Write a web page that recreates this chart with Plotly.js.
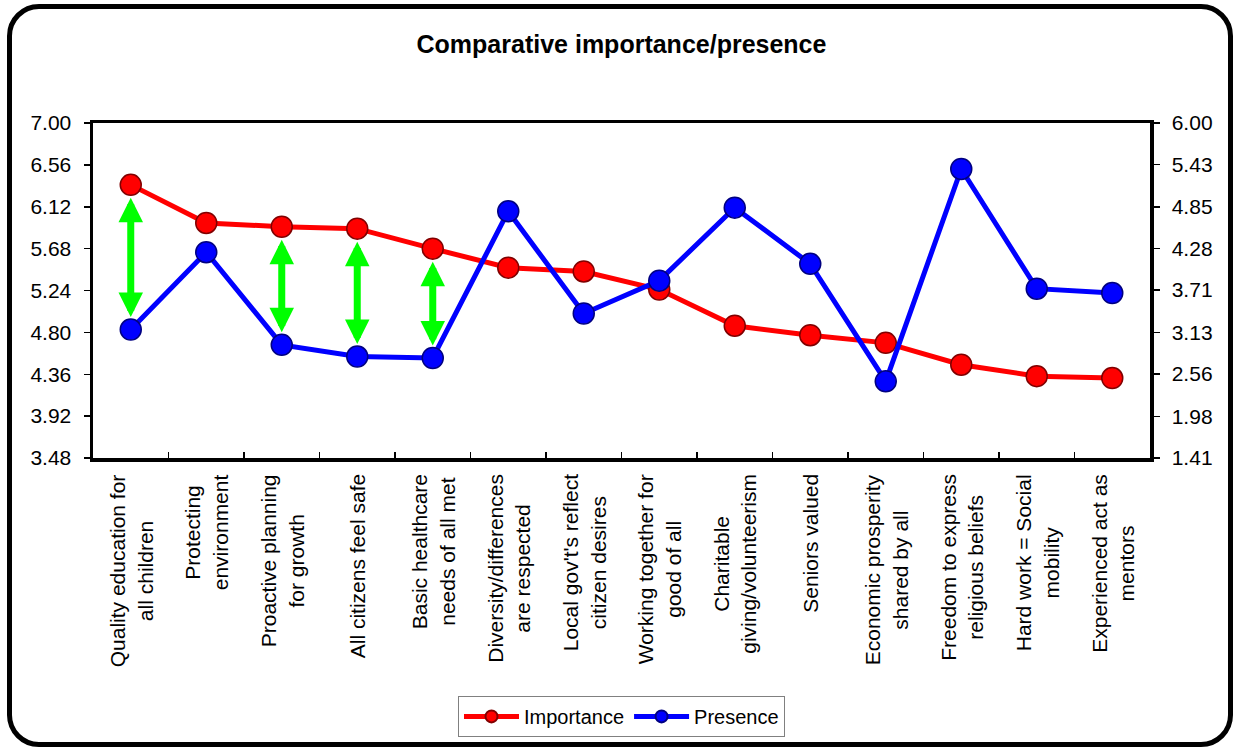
<!DOCTYPE html>
<html>
<head>
<meta charset="utf-8">
<script src="https://cdn.plot.ly/plotly-3.0.1.min.js"></script>
<style>
  html, body { margin: 0; padding: 0; background: #ffffff; }
  #wrap { position: relative; width: 1235px; height: 748px; overflow: hidden; }
  #chart { position: absolute; left: 0; top: 0; width: 1235px; height: 748px; }
  #frame { position: absolute; left: 7px; top: 4px; width: 1226px; height: 743px;
           box-sizing: border-box; border: 5px solid #000; border-radius: 32px; pointer-events: none; }
</style>
</head>
<body>
<div id="wrap"><div id="chart"></div><div id="frame"></div></div>
<script>
const categories = [
  "Quality education for<br>all children",
  "Protecting<br>environment",
  "Proactive planning<br>for growth",
  "All citizens feel safe",
  "Basic healthcare<br>needs of all met",
  "Diversity/differences<br>are respected",
  "Local gov't's reflect<br>citizen desires",
  "Working together for<br>good of all",
  "Charitable<br>giving/volunteerism",
  "Seniors valued",
  "Economic prosperity<br>shared by all",
  "Freedom to express<br>religious beliefs",
  "Hard work = Social<br>mobility",
  "Experienced act as<br>mentors"
];
const importance = [6.35, 5.95, 5.91, 5.89, 5.68, 5.48, 5.44, 5.25, 4.87, 4.77, 4.69, 4.46, 4.34, 4.32];
const presence   = [3.17, 4.23, 2.96, 2.80, 2.78, 4.79, 3.39, 3.84, 4.84, 4.07, 2.46, 5.37, 3.73, 3.67];
const leftTickLabels  = ["3.48", "3.92", "4.36", "4.80", "5.24", "5.68", "6.12", "6.56", "7.00"];
const rightTickLabels = ["1.41", "1.98", "2.56", "3.13", "3.71", "4.28", "4.85", "5.43", "6.00"];
const gapCategories = [0, 2, 3, 4];
const titleText = "Comparative importance/presence";

const FONT = "Liberation Sans, Arial, sans-serif";
const leftRange = [3.48, 7.00];
const rightRange = [1.41, 6.00];
function toLeft(v) {
  return leftRange[0] + (v - rightRange[0]) / (rightRange[1] - rightRange[0]) * (leftRange[1] - leftRange[0]);
}

const traces = [
  {
    x: categories, y: importance, name: "Importance", type: "scatter", mode: "lines+markers",
    line: { color: "#ff0000", width: 5 },
    marker: { color: "#ff0000", size: 21, line: { color: "#800000", width: 1.5 } },
    cliponaxis: false
  },
  {
    x: categories, y: presence, name: "Presence", type: "scatter", mode: "lines+markers", yaxis: "y2",
    line: { color: "#0000ff", width: 5 },
    marker: { color: "#0000ff", size: 21, line: { color: "#000080", width: 1.5 } },
    cliponaxis: false
  }
];

const annotations = [];
categories.forEach(function (c) {
  annotations.push({
    x: c, xref: "x", y: 0, yref: "paper", yanchor: "top", xanchor: "center",
    yshift: -14, text: c, showarrow: false, textangle: -90, align: "center",
    font: { family: FONT, size: 21, color: "#000" }
  });
});
gapCategories.forEach(function (i) {
  annotations.push({
    x: categories[i], xref: "x", y: importance[i], yref: "y",
    ax: categories[i], axref: "x", ay: toLeft(presence[i]), ayref: "y",
    text: "", showarrow: true, arrowside: "end+start",
    arrowhead: 2, startarrowhead: 2, arrowsize: 0.7, startarrowsize: 0.7,
    arrowwidth: 7, arrowcolor: "#00ff00", standoff: 13, startstandoff: 11
  });
});

const layout = {
  width: 1235, height: 748,
  margin: { l: 93, r: 85, t: 123, b: 289 },
  paper_bgcolor: "rgba(0,0,0,0)", plot_bgcolor: "#ffffff",
  font: { family: FONT, size: 20, color: "#000" },
  title: { text: "<b>" + titleText + "</b>", x: 0.5, xref: "paper", y: 1 - 44 / 748, yanchor: "middle",
           font: { family: FONT, size: 25, color: "#000" } },
  showlegend: true,
  legend: {
    orientation: "h", x: 0.5, xanchor: "center", y: -0.705, yanchor: "top",
    bgcolor: "#ffffff", bordercolor: "#808080", borderwidth: 1,
    font: { family: FONT, size: 20, color: "#000" }, itemsizing: "constant", itemwidth: 55
  },
  xaxis: {
    type: "category", range: [-0.5, 13.5], showticklabels: false,
    tickson: "boundaries", ticks: "inside", ticklen: 6, tickwidth: 1.5, tickcolor: "#000",
    showline: true, linecolor: "#000", linewidth: 3.5, mirror: true, showgrid: false, zeroline: false
  },
  yaxis: {
    range: leftRange, tickvals: leftTickLabels.map(parseFloat), ticktext: leftTickLabels,
    ticks: "outside", ticklen: 6, tickwidth: 1.5, tickcolor: "#000", ticklabelstandoff: 8,
    showline: true, linecolor: "#000", linewidth: 3.5, mirror: true, showgrid: false, zeroline: false,
    tickfont: { family: FONT, size: 21, color: "#000" }
  },
  yaxis2: {
    range: rightRange, overlaying: "y", side: "right",
    tickvals: rightTickLabels.map(parseFloat), ticktext: rightTickLabels,
    ticks: "outside", ticklen: 6, tickwidth: 1.5, tickcolor: "#000", ticklabelstandoff: 8,
    showline: true, linecolor: "#000", linewidth: 3.5, showgrid: false, zeroline: false,
    tickfont: { family: FONT, size: 21, color: "#000" }
  },
  annotations: annotations
};

Plotly.newPlot("chart", traces, layout, { displayModeBar: false, staticPlot: true });
</script>
</body>
</html>
